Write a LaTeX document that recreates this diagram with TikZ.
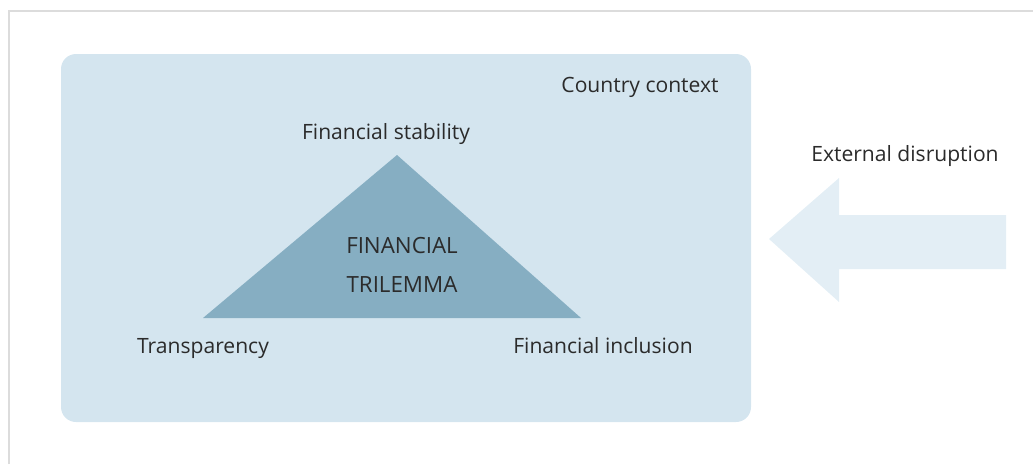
\documentclass[tikz,border=0pt]{standalone}
\usepackage{fontspec}
\setmainfont{Open Sans}
\usepackage{tikz}
\usetikzlibrary{calc}

\definecolor{ctxblue}{HTML}{D4E5EF}
\definecolor{triblue}{HTML}{86AEC2}
\definecolor{arrblue}{HTML}{E3EEF5}
\definecolor{framegray}{HTML}{DCDCDC}
\definecolor{txtgray}{HTML}{2B2B2B}

\tikzset{
    lbl/.style={text=txtgray, font=\fontsize{12}{14}\selectfont, inner sep=0pt, anchor=base},
    caps/.style={lbl, font=\fontsize{12.7}{15}\selectfont},
}

\begin{document}
\begin{tikzpicture}[x=0.02cm, y=-0.02cm]
        \useasboundingbox (0,0) rectangle (1033,464);
        % frame
        \draw[framegray, line width=0.8pt] (9,464) -- (9,11) -- (1033,11);
        % country context box
        \fill[ctxblue, rounded corners=0.3cm] (61,54) rectangle (751,422);
        % trilemma triangle
        \coordinate (top) at (397,155);
        \coordinate (left) at (203,318);
        \coordinate (right) at (581,318);
        \fill[triblue] (top) -- (left) -- (right) -- cycle;
        % external arrow
        \coordinate (tip) at (769,239);
        \fill[arrblue] (tip) -- (839,178) -- (839,215) -- (1006,215)
            -- (1006,269) -- (839,269) -- (839,302) -- cycle;
        % labels
        \node[lbl] (context) at (640,92) {Country context};
        \node[lbl] (stability) at (386,139) {Financial stability};
        \node[lbl] (transp) at (203,353) {Transparency};
        \node[lbl] (inclusion) at (603,353) {Financial inclusion};
        \node[caps] (fin) at (402,253) {FINANCIAL};
        \node[caps] (tri) at (402,292) {TRILEMMA};
        \node[lbl] (disrupt) at (905,161) {External disruption};
    \end{tikzpicture}
\end{document}
